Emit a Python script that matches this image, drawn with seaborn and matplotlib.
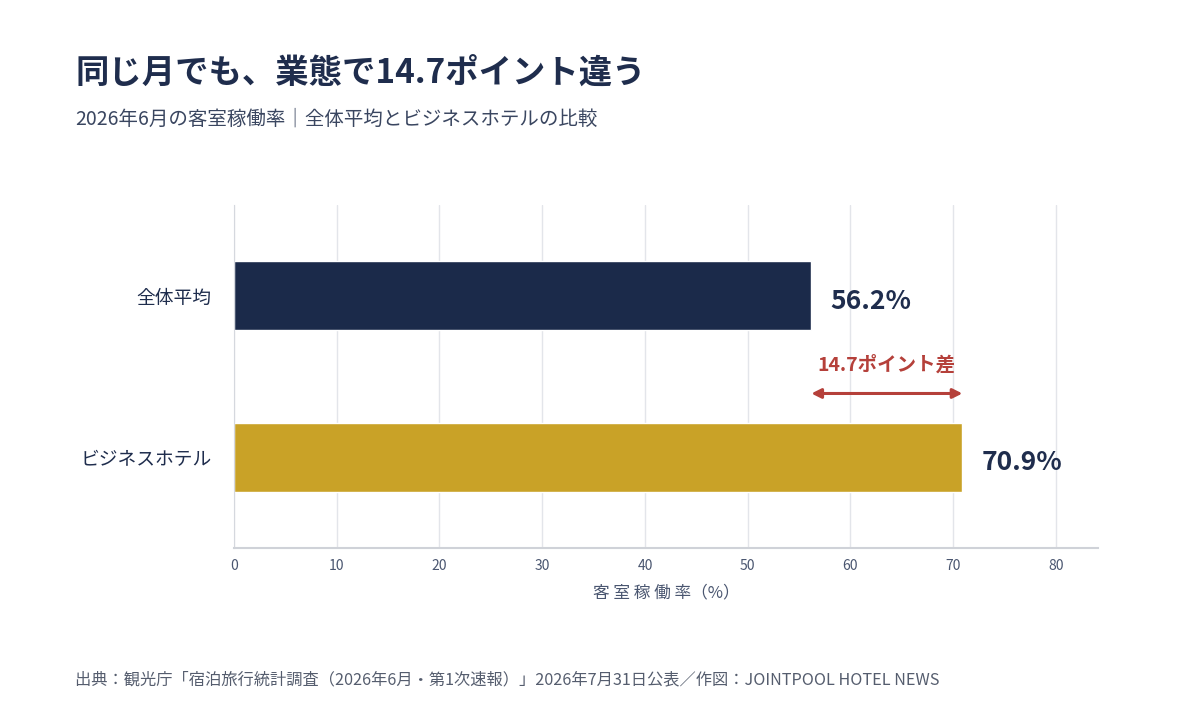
import pandas as pd
import seaborn as sns
import matplotlib.pyplot as plt

categories = ['全体平均', 'ビジネスホテル']
rates = [56.2, 70.9]
bar_colors = ['#1b2a4a', '#c9a227']
xticks = [0, 10, 20, 30, 40, 50, 60, 70, 80]

df = pd.DataFrame({'業態': categories, '稼働率': rates})
diff = round(rates[1] - rates[0], 1)

sns.set_style('white')
plt.rcParams['font.family'] = ['Noto Sans CJK JP', 'DejaVu Sans']

navy = '#1f2d4d'
fig = plt.figure(figsize=(12, 7.14), dpi=100)
ax = fig.add_axes([0.195, 0.2325, 0.72, 0.4804])

sns.barplot(data=df, x='稼働率', y='業態', hue='業態', palette=bar_colors,
            width=0.43, legend=False, ax=ax, saturation=1)

ax.set_xlim(0, 84.1)
ax.set_ylim(1.56, -0.56)
ax.set_xticks(xticks)
ax.set_xticklabels([str(t) for t in xticks], fontsize=10, color='#4a5670')
ax.tick_params(axis='y', labelsize=13.5, colors=navy, length=0, pad=16)
ax.tick_params(axis='x', length=0, pad=8)
ax.grid(axis='x', color='#e3e5ea', linewidth=1)
ax.set_axisbelow(True)
for s in ['top', 'right']:
    ax.spines[s].set_visible(False)
ax.spines['left'].set_color('#d5d8de')
ax.spines['bottom'].set_color('#cfd2d8')
ax.spines['bottom'].set_linewidth(1.5)
ax.set_ylabel('')
ax.set_xlabel('客 室 稼 働 率（%）', fontsize=12, color='#4a5670', labelpad=8)

for i, v in enumerate(rates):
    ax.annotate(f'{v}%', (v, i), xytext=(14, -4), textcoords='offset points',
                ha='left', va='center', fontsize=19, fontweight='bold', color=navy)

ax.annotate('', xy=(rates[0], 0.605), xytext=(rates[1], 0.605),
            arrowprops=dict(arrowstyle='<|-|>', color='#b5403a', lw=2.2,
                            mutation_scale=14, shrinkA=0, shrinkB=0))
ax.text((rates[0] + rates[1]) / 2, 0.43, f'{diff}ポイント差', ha='center', va='center',
        fontsize=14, fontweight='bold', color='#b5403a')

fig.text(0.0625, 0.897, '同じ月でも、業態で14.7ポイント違う', fontsize=24,
         fontweight='bold', color=navy, va='center')
fig.text(0.0625, 0.833, '2026年6月の客室稼働率｜全体平均とビジネスホテルの比較', fontsize=14,
         color='#3a4660', va='center')
fig.text(0.0625, 0.048, '出典：観光庁「宿泊旅行統計調査（2026年6月・第1次速報）」2026年7月31日公表／作図：JOINTPOOL HOTEL NEWS',
         fontsize=11.7, color='#555d6e', va='center')

fig.savefig('out.png', dpi=100, facecolor='white')
